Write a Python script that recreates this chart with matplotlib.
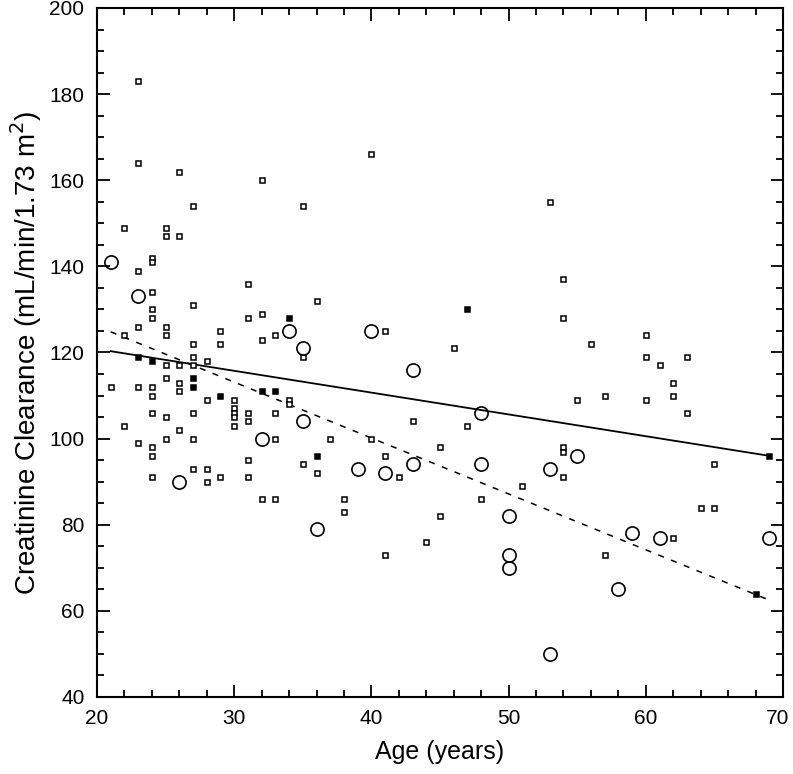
import matplotlib
matplotlib.use('Agg')
import matplotlib.pyplot as plt
from matplotlib.ticker import MultipleLocator
from matplotlib.transforms import ScaledTranslation

plt.rcParams['font.family'] = ['Liberation Sans', 'DejaVu Sans']

# Open squares (group 1)
sq_age = [23, 23, 26, 32, 27, 22, 25, 25, 26,
          24, 24, 23, 24, 31, 27, 24, 24, 31, 32,
          23, 25, 22, 25, 27, 29, 29, 32, 33,
          25, 26, 27, 27, 28, 25,
          21, 23, 24, 24, 26, 26, 28, 30, 30, 30, 30, 30,
          31, 31, 33, 33, 24, 25, 27, 22, 26, 23, 25, 27, 24, 24,
          31, 27, 28, 29, 24, 28, 31, 32, 33,
          40, 35, 36, 41, 35, 34, 34, 43, 37, 40, 45, 41, 35, 36, 42, 38, 38, 45, 44, 41,
          53, 54, 54, 56, 46, 55, 57, 47, 54, 54, 54, 51, 48, 57,
          60, 60, 63, 61, 62, 62, 60, 63, 65, 64, 65, 62]
sq_clr = [183, 164, 162, 160, 154, 149, 149, 147, 147,
          142, 141, 139, 134, 136, 131, 130, 128, 128, 129,
          126, 126, 124, 124, 122, 125, 122, 123, 124,
          117, 117, 119, 117, 118, 114,
          112, 112, 112, 110, 113, 111, 109, 109, 107, 106, 105, 103,
          106, 104, 106, 100, 106, 105, 106, 103, 102, 99, 100, 100, 98, 96,
          95, 93, 93, 91, 91, 90, 91, 86, 86,
          166, 154, 132, 125, 119, 109, 108, 104, 100, 100, 98, 96, 94, 92, 91, 86, 83, 82, 76, 73,
          155, 137, 128, 122, 121, 109, 110, 103, 98, 97, 91, 89, 86, 73,
          124, 119, 119, 117, 113, 110, 109, 106, 94, 84, 84, 77]

# Overlapping squares (drawn filled)
ov_age = [23, 24, 27, 27, 29, 32, 33, 34, 36, 47, 68, 69]
ov_clr = [119, 118, 114, 112, 110, 111, 111, 128, 96, 130, 64, 96]

# Open circles (group 2)
ci_age = [21, 23, 26, 32, 34, 35, 35, 36, 39, 40, 41, 43, 43,
          48, 48, 50, 50, 50, 53, 53, 55, 58, 59, 61, 69]
ci_clr = [141, 133, 90, 100, 125, 121, 104, 79, 93, 125, 92, 116, 94,
          106, 94, 82, 73, 70, 93, 50, 96, 65, 78, 77, 77]

# Regression lines (end points)
fit_age = [21, 69]
fit_sq = [120.3, 96.0]
fit_ci = [124.8, 62.5]

x_ticks = [20, 30, 40, 50, 60, 70]

fig = plt.figure(figsize=(7.93, 7.74), dpi=100)
ax = fig.add_axes([0.1223, 0.0995, 0.8651, 0.8902])

ax.plot(fit_age, fit_sq, color='black', lw=1.3, zorder=2)
ax.plot(fit_age, fit_ci, color='black', lw=1.1, dashes=(4, 5), zorder=2)

ax.plot(sq_age, sq_clr, 's', ms=3.6, mfc='white', mec='black', mew=1.1, zorder=3)
ax.plot(ov_age, ov_clr, 's', ms=3.6, mfc='black', mec='black', mew=1.1, zorder=3)
ax.plot(ci_age, ci_clr, 'o', ms=9.5, mfc='none', mec='black', mew=1.2, zorder=4)

ax.set_xlim(20, 70)
ax.set_ylim(40, 200)
ax.set_xticks(x_ticks)
ax.xaxis.set_minor_locator(MultipleLocator(2))
ax.yaxis.set_major_locator(MultipleLocator(20))
ax.yaxis.set_minor_locator(MultipleLocator(5))
ax.tick_params(which='both', direction='in', top=True, right=True, width=1.3)
ax.tick_params(which='major', length=9, labelsize=15, pad=9)
ax.tick_params(which='minor', length=5)
for sp in ax.spines.values():
    sp.set_linewidth(1.5)

ax.set_xlabel('Age (years)', fontsize=18, labelpad=8)
ax.set_ylabel('Creatinine Clearance (mL/min/1.73 m$^2$)', fontsize=20, labelpad=4)

# nudge the "70" label so it stays inside the figure
last = ax.xaxis.get_major_ticks()[-1].label1
last.set_transform(last.get_transform() + ScaledTranslation(-4 / 72, 0, fig.dpi_scale_trans))

fig.savefig('out.png', dpi=100)
